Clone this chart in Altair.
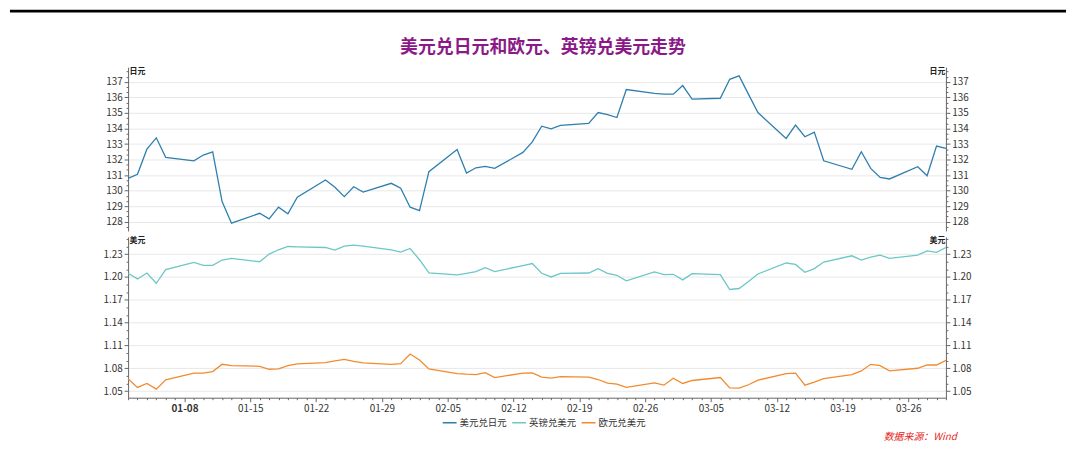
import altair as alt
import pandas as pd

# ---------------- data ----------------
dates = [d.strftime("%Y-%m-%d") for d in pd.bdate_range("2023-01-02", "2023-03-30")]

usd_jpy = [
    130.79, 131.05, 132.67, 133.40, 132.14,
    131.92, 132.29, 132.50, 129.29, 127.90,
    128.54, 128.18, 128.93, 128.50, 129.57,
    130.68, 130.21, 129.61, 130.25, 129.91,
    130.47, 130.15, 128.93, 128.71, 131.22,
    132.65, 131.13, 131.47, 131.56, 131.43,
    132.46, 133.14, 134.15, 133.98, 134.20,
    134.33, 135.03, 134.90, 134.71, 136.51,
    136.27, 136.22, 136.21, 136.77, 135.89,
    135.95, 137.17, 137.39, 136.20, 135.03,
    133.36, 134.22, 133.47, 133.77, 131.92,
    131.37, 132.50, 131.43, 130.85, 130.75,
    131.54, 130.96, 132.87, 132.72,
]

gbp_usd = [
    1.2048, 1.1974, 1.2052, 1.1917, 1.2096,
    1.2191, 1.2152, 1.2152, 1.2222, 1.2243,
    1.2200, 1.2300, 1.2357, 1.2400, 1.2396,
    1.2387, 1.2352, 1.2404, 1.2417, 1.2404,
    1.2357, 1.2326, 1.2374, 1.2226, 1.2052,
    1.2026, 1.2048, 1.2070, 1.2122, 1.2070,
    1.2150, 1.2176, 1.2048, 1.2000, 1.2048,
    1.2052, 1.2109, 1.2048, 1.2022, 1.1948,
    1.2065, 1.2030, 1.2035, 1.1961, 1.2043,
    1.2030, 1.1835, 1.1848, 1.1939, 1.2039,
    1.2183, 1.2165, 1.2061, 1.2109, 1.2196,
    1.2278, 1.2222, 1.2261, 1.2287, 1.2243,
    1.2287, 1.2343, 1.2322, 1.2387,
]

eur_usd = [
    1.0661, 1.0548, 1.0600, 1.0526, 1.0648,
    1.0735, 1.0735, 1.0757, 1.0852, 1.0835,
    1.0826, 1.0787, 1.0791, 1.0835, 1.0857,
    1.0874, 1.0896, 1.0917, 1.0891, 1.0870,
    1.0852, 1.0861, 1.0987, 1.0909, 1.0791,
    1.0730, 1.0722, 1.0717, 1.0743, 1.0678,
    1.0735, 1.0739, 1.0683, 1.0670, 1.0691,
    1.0683, 1.0652, 1.0604, 1.0591, 1.0548,
    1.0609, 1.0578, 1.0670, 1.0600, 1.0639,
    1.0678, 1.0543, 1.0539, 1.0583, 1.0643,
    1.0730, 1.0735, 1.0578, 1.0617, 1.0665,
    1.0717, 1.0765, 1.0852, 1.0835, 1.0765,
    1.0800, 1.0843, 1.0843, 1.0904,
]

series_names = ["美元兑日元", "英镑兑美元", "欧元兑美元"]
series_colors = ["#2f7fae", "#6cc7c7", "#f28b2f"]
title_text = "美元兑日元和欧元、英镑兑美元走势"
source_text = "数据来源：Wind"
jpy_unit = "日元"
usd_unit = "美元"

jpy_df = pd.DataFrame({"date": dates, "value": usd_jpy, "series": series_names[0]})
fx_df = pd.concat([
    pd.DataFrame({"date": dates, "value": gbp_usd, "series": series_names[1]}),
    pd.DataFrame({"date": dates, "value": eur_usd, "series": series_names[2]}),
])

# ---------------- layout / style ----------------
FONT = "Noto Sans CJK SC"
W = 824
H_TOP = 165
H_BOT = 162


def ms(s):
    return int(pd.Timestamp(s, tz="UTC").timestamp() * 1000)


x_domain = [ms("2023-01-02"), ms("2023-03-30")]
x_ticks = [ms(d) for d in pd.date_range("2023-01-02", "2023-03-30").strftime("%Y-%m-%d")]
x_scale = alt.Scale(type="utc", domain=x_domain, nice=False)

sunday = "utcday(datum.value)===0"
x_axis = alt.Axis(
    values=x_ticks,
    labelExpr=f"{sunday} ? utcFormat(datum.value, '%m-%d') : ''",
    tickSize={"condition": {"test": sunday, "value": 4}, "value": 2},
    labelFontWeight={"condition": {"test": "utcmonth(datum.value)===0 && utcdate(datum.value)===8",
                                   "value": "bold"}, "value": "normal"},
    grid=False, title=None, labelOverlap=False, labelFlush=False,
    domainColor="#666", tickColor="#666", labelColor="#333", labelFontSize=10, labelPadding=2,
)


def y_axis(orient, vals, major, fmt, title, grid):
    left = orient == "left"
    kw = dict(
        orient=orient, values=vals,
        labelExpr=f"({major}) ? format(datum.value, '{fmt}') : ''",
        tickSize={"condition": {"test": major, "value": 4}, "value": 2},
        grid=grid, title=title, titleAngle=0, titleFontSize=8, titleFontWeight="bold",
        titleColor="#222", titleX=1 if left else -1, titleY=0,
        titleAlign="left" if left else "right", titleBaseline="top",
        labelFontSize=10, labelColor="#333", domainColor="#666", tickColor="#666",
        labelPadding=2, labelOverlap=False, labelFlush=False,
    )
    if grid:
        kw["gridColor"] = "#e8e8e8"
        kw["gridOpacity"] = {"condition": {"test": major, "value": 1}, "value": 0}
    return alt.Axis(**kw)


color_enc = alt.Color("series:N", scale=alt.Scale(domain=series_names, range=series_colors),
                      legend=alt.Legend(title=None))

# top panel (USD/JPY)
top_vals = [round(127 + k / 3, 4) for k in range(2, 33)]
top_major = "abs(datum.value - round(datum.value)) < 0.01"
top_scale = alt.Scale(domain=[127.4, 137.95], nice=False, zero=False)

top_line = alt.Chart(jpy_df).mark_line(strokeWidth=1.3).encode(
    x=alt.X("date:T", scale=x_scale, axis=None),
    y=alt.Y("value:Q", scale=top_scale, axis=y_axis("left", top_vals, top_major, "d", jpy_unit, True)),
    color=color_enc,
)
top_right = alt.Chart(jpy_df).mark_line(strokeOpacity=0).encode(
    x=alt.X("date:T", scale=x_scale, axis=None),
    y=alt.Y("value:Q", scale=top_scale, axis=y_axis("right", top_vals, top_major, "d", jpy_unit, False)),
)
top = alt.layer(top_line, top_right).resolve_axis(y="independent").properties(width=W, height=H_TOP)

# bottom panel (GBP/USD, EUR/USD)
bot_vals = [round(1.05 + 0.01 * k, 2) for k in range(0, 21)]
bot_major = "round(datum.value * 100) % 3 === 0"
bot_scale = alt.Scale(domain=[1.0413, 1.2526], nice=False, zero=False)

bot_line = alt.Chart(fx_df).mark_line(strokeWidth=1.3).encode(
    x=alt.X("date:T", scale=x_scale, axis=x_axis),
    y=alt.Y("value:Q", scale=bot_scale, axis=y_axis("left", bot_vals, bot_major, ".2f", usd_unit, True)),
    color=color_enc,
    detail="series:N",
)
bot_right = alt.Chart(fx_df).mark_line(strokeOpacity=0).encode(
    x=alt.X("date:T", scale=x_scale, axis=x_axis),
    y=alt.Y("value:Q", scale=bot_scale, axis=y_axis("right", bot_vals, bot_major, ".2f", usd_unit, False)),
    detail="series:N",
)
src = alt.Chart(pd.DataFrame({"t": [source_text]})).mark_text(
    align="right", baseline="middle", fontStyle="italic", fontSize=10, color="#e8261c", font=FONT,
).encode(text="t:N", x=alt.value(835), y=alt.value(202))
bottom = alt.layer(bot_line, bot_right, src).resolve_axis(y="independent").properties(width=W, height=H_BOT)

# header: black rule + title
hdr_df = pd.DataFrame({"t": [title_text]})
hdr_rule = alt.Chart(hdr_df).mark_rule(color="black", strokeWidth=3).encode(
    x=alt.value(-119), x2=alt.value(945), y=alt.value(1.5)
)
hdr_title = alt.Chart(hdr_df).mark_text(
    fontSize=18, fontWeight="bold", color="#8b1a89", align="center", baseline="middle", font=FONT,
).encode(text="t:N", x=alt.value(418), y=alt.value(39))
header = alt.layer(hdr_rule, hdr_title).properties(width=W, height=56)

chart = alt.vconcat(header, top, bottom, spacing=1).properties(padding=0).configure(
    font=FONT
).configure_view(stroke=None).configure_legend(
    orient="none", legendX=316, legendY=408, direction="horizontal",
    symbolType="stroke", symbolStrokeWidth=1.5, symbolSize=196,
    labelFontSize=9.5, labelColor="#333", labelFont=FONT, columnPadding=2, labelOffset=2,
)

chart.save("out.html", embed_options={"renderer": "svg", "actions": False})
